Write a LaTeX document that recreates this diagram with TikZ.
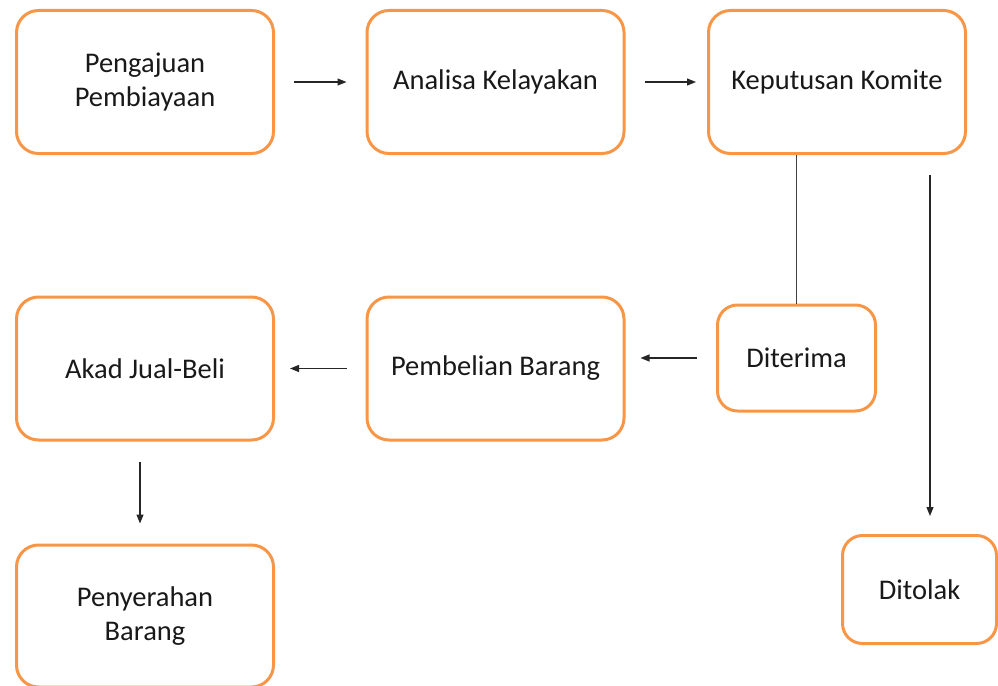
\documentclass[tikz,border=0pt]{standalone}
\usepackage{fontspec}
\setmainfont{Carlito}
\usetikzlibrary{arrows.meta}
\definecolor{boxorange}{HTML}{F79646}
\begin{document}
\begin{tikzpicture}[x=1pt,y=-1pt,
  stepbox/.style={draw=boxorange, line width=3pt, rounded corners=22pt, minimum width=257pt, minimum height=143pt, align=center, font=\fontsize{28.5}{34}\selectfont, text=black!90, inner sep=0pt},
  smallbox/.style={stepbox, minimum width=158pt, minimum height=106pt, rounded corners=20pt},
  arr/.style={line width=1.2pt, draw=black!85, -{Triangle[length=9pt,width=7pt]}},
  link/.style={line width=1.4pt, draw=black!75}]
\useasboundingbox (0,0) rectangle (998,685);
\node[stepbox] (peng) at (145,82) {Pengajuan\\Pembiayaan};
\node[stepbox] (anal) at (495.5,82) {Analisa Kelayakan};
\node[stepbox] (kepu) at (837,82) {Keputusan Komite};
\node[smallbox] (teri) at (796.5,358) {Diterima};
\node[smallbox, minimum width=154pt, minimum height=108pt] (tola) at (919.5,589.5) {Ditolak};
\node[stepbox] (akad) at (145,368.5) {Akad Jual-Beli};
\node[stepbox] (pemb) at (495.5,368.5) {Pembelian Barang};
\node[stepbox, minimum height=142pt] (peny) at (145,616) {Penyerahan\\Barang};
\draw[arr] ([xshift=19pt]peng.east) -- ([xshift=-19pt]anal.west);
\draw[arr] ([xshift=19pt]anal.east) -- ([xshift=-11pt]kepu.west);
\draw[link] (teri.north |- kepu.south) -- (teri.north);
\draw[arr] ([xshift=10.5pt,yshift=-20pt]tola.north |- kepu.south) -- ([xshift=10.5pt,yshift=18pt]tola.north);
\draw[arr] ([xshift=-19pt]teri.west) -- ([xshift=15pt]pemb.east |- teri.west);
\draw[arr] ([xshift=-19pt]pemb.west) -- ([xshift=15pt]akad.east);
\draw[arr] ([xshift=-5pt,yshift=-20pt]akad.south) -- ([xshift=-5pt,yshift=20pt]peny.north);
\end{tikzpicture}
\end{document}
